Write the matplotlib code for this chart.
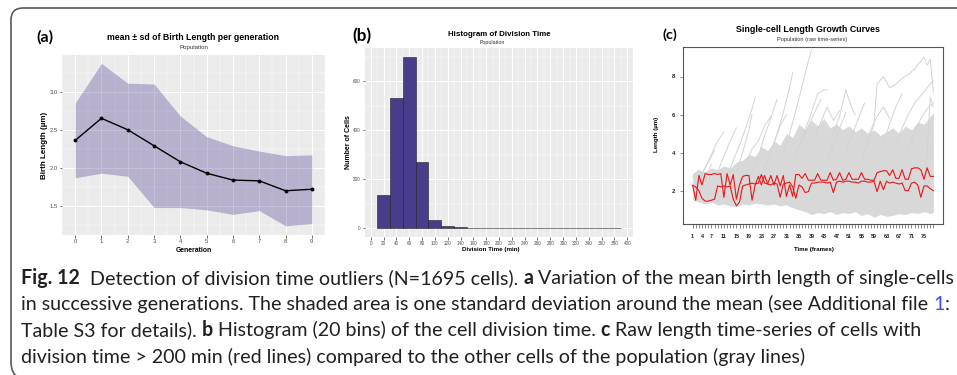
import numpy as np
import matplotlib
matplotlib.use('Agg')
import matplotlib.pyplot as plt
from matplotlib.path import Path
from matplotlib.patches import PathPatch

# ---------------- data ----------------
# (a) birth length per generation
generations = [0, 1, 2, 3, 4, 5, 6, 7, 8, 9]
birth_mean = [2.36, 2.65, 2.50, 2.29, 2.08, 1.93, 1.84, 1.83, 1.70, 1.72]
birth_sd = [0.49, 0.72, 0.61, 0.81, 0.60, 0.48, 0.45, 0.39, 0.46, 0.45]

# (b) histogram of division time
bin_edges = [10, 30, 50, 70, 90, 110, 130, 150, 170, 190, 210, 230, 250,
             270, 290, 310, 330, 350, 370, 390]
bin_counts = [138, 532, 698, 270, 35, 10, 6, 3, 1, 0, 0, 0, 0, 0, 0, 0, 0, 0, 2]
hist_xticks = list(range(0, 401, 20))
hist_yticks = [0, 200, 400, 600]

# (c) length time-series
frames = list(range(1, 79))
frame_labels = [1, 4, 7, 11, 15, 19, 23, 27, 31, 35, 39, 43, 47, 51, 55, 59, 63, 67, 71, 75]
red_a = [2.28, 1.50, 2.80, 2.30, 2.90, 2.85, 2.85, 2.90, 2.85, 2.90,
         1.65, 2.90, 2.30, 2.85, 1.55, 2.30, 2.75, 2.80, 2.80, 1.50,
         2.30, 2.75, 2.30, 2.80, 2.35, 2.80, 2.30, 2.80, 2.25, 2.80,
         1.70, 2.30, 1.70, 2.85, 2.85, 2.65, 2.90, 2.55, 2.55, 2.55,
         2.90, 2.55, 2.55, 2.55, 2.95, 2.55, 2.60, 2.95, 2.55, 2.60,
         2.95, 2.60, 2.60, 2.60, 2.95, 2.60, 2.60, 2.55, 2.55, 2.95,
         3.00, 3.05, 3.05, 2.80, 3.10, 2.65, 2.65, 3.10, 2.60, 2.60,
         3.15, 3.20, 3.20, 3.10, 2.60, 3.20, 2.75, 2.75]
red_b = [2.28, 2.20, 2.00, 1.60, 1.45, 1.45, 1.50, 1.55, 2.25, 2.20,
         2.25, 2.20, 2.25, 1.55, 1.20, 1.40, 2.25, 2.30, 2.35, 2.40,
         2.35, 2.40, 2.85, 2.40, 2.35, 2.30, 2.40, 2.35, 1.65, 2.35,
         2.40, 2.45, 2.20, 1.60, 2.30, 2.20, 1.90, 1.95, 2.40, 2.40,
         2.45, 2.45, 2.45, 2.40, 2.45, 1.90, 2.45, 2.50, 2.45, 2.50,
         2.50, 2.45, 2.45, 2.40, 2.50, 2.50, 2.45, 2.45, 2.50, 1.95,
         2.50, 2.05, 2.50, 2.40, 2.45, 2.40, 2.35, 2.40, 2.00, 2.00,
         2.40, 2.45, 2.30, 1.65, 2.25, 2.25, 2.10, 2.00]
# dense envelope of the gray population traces
env_frames = [1, 3, 5, 7, 9, 11, 13, 15, 17, 19, 21, 23, 25, 27, 29, 31, 33, 35, 37, 39,
              41, 43, 45, 47, 49, 51, 53, 55, 57, 59, 61, 63, 65, 67, 69, 71, 73, 75, 77, 78]
env_upper = [2.9, 3.1, 3.0, 3.2, 3.1, 3.3, 3.2, 3.5, 3.6, 3.9, 3.8, 4.3, 4.1, 4.6, 4.4, 5.0,
             4.8, 5.5, 5.2, 5.7, 5.4, 5.8, 5.3, 5.5, 5.2, 5.4, 5.1, 5.3, 5.0, 5.2, 4.9, 5.1,
             5.3, 5.0, 5.4, 5.2, 5.6, 5.5, 5.9, 6.1]
env_lower = [1.5, 1.4, 1.3, 1.4, 1.25, 1.3, 1.2, 1.15, 1.3, 1.25, 1.35, 1.3, 1.25, 1.3, 1.2,
             1.25, 1.1, 1.0, 0.9, 0.75, 0.85, 0.8, 0.9, 0.75, 0.85, 0.8, 0.9, 0.7, 0.8, 0.6,
             0.75, 0.65, 0.7, 0.8, 0.75, 0.85, 0.8, 0.9, 0.8, 0.85]
# individual gray traces that stand out of the dense mass
g01_f = [3, 5, 7, 9, 11];            g01_v = [2.6, 3.2, 3.9, 4.6, 5.1]
g02_f = [2, 4, 6, 8];                g02_v = [2.2, 2.9, 3.5, 4.1]
g03_f = [9, 11, 13, 15];             g03_v = [3.0, 3.8, 4.6, 5.3]
g04_f = [12, 14, 16, 18, 20, 21];    g04_v = [2.8, 3.6, 4.4, 5.3, 6.3, 6.9]
g05_f = [15, 17, 19, 20];            g05_v = [3.0, 4.0, 5.2, 6.0]
g06_f = [20, 22, 24, 26, 28];        g06_v = [3.0, 3.8, 4.9, 5.8, 6.8]
g07_f = [24, 26, 28, 30, 32, 33];    g07_v = [3.2, 4.0, 5.0, 6.1, 7.4, 8.2]
g08_f = [30, 32, 34, 36, 38, 39];    g08_v = [4.0, 5.0, 6.2, 7.5, 8.8, 9.4]
g09_f = [33, 35, 37, 39, 41, 43, 44]; g09_v = [3.5, 4.3, 5.2, 6.1, 7.1, 7.3, 7.3]
g10_f = [46, 48, 50, 52, 53];        g10_v = [5.0, 5.9, 7.3, 6.3, 6.0]
g11_f = [44, 46, 48, 50];            g11_v = [3.5, 4.4, 5.3, 6.1]
g12_f = [50, 52, 54, 56];            g12_v = [4.0, 4.9, 5.8, 6.6]
g13_f = [55, 57, 59, 60, 62, 64, 66, 68, 70, 72, 74, 75, 76, 77, 78]
g13_v = [3.5, 4.5, 5.5, 7.6, 8.0, 7.4, 7.6, 7.9, 8.1, 8.4, 8.8, 9.0, 8.6, 8.9, 7.2]
g14_f = [62, 64, 66, 68];            g14_v = [4.5, 5.5, 6.4, 7.1]
g15_f = [66, 68, 70, 72, 74, 76, 78]; g15_v = [4.5, 5.3, 6.0, 6.6, 7.0, 7.4, 7.8]
g16_f = [70, 72, 74, 76, 78];        g16_v = [4.2, 5.0, 5.8, 6.3, 6.6]
g17_f = [36, 38, 40, 42];            g17_v = [4.6, 5.4, 6.1, 6.8]
g18_f = [27, 29, 31];                g18_v = [4.5, 5.4, 6.0]
g19_f = [75, 76, 77, 78];            g19_v = [2.0, 4.0, 6.9, 6.4]
g20_f = [1, 3, 5, 7];                g20_v = [2.7, 3.1, 2.5, 3.4]
g21_f = [18, 20, 22, 24, 26];        g21_v = [3.4, 4.2, 4.6, 5.4, 5.9]
g22_f = [40, 42, 44, 46, 48];        g22_v = [4.8, 5.6, 6.4, 5.7, 6.2]
g23_f = [56, 58, 60, 62, 64];        g23_v = [4.6, 5.2, 5.9, 6.4, 5.8]

gray_traces = [(g01_f, g01_v), (g02_f, g02_v), (g03_f, g03_v), (g04_f, g04_v),
               (g05_f, g05_v), (g06_f, g06_v), (g07_f, g07_v), (g08_f, g08_v),
               (g09_f, g09_v), (g10_f, g10_v), (g11_f, g11_v), (g12_f, g12_v),
               (g13_f, g13_v), (g14_f, g14_v), (g15_f, g15_v), (g16_f, g16_v),
               (g17_f, g17_v), (g18_f, g18_v), (g19_f, g19_v), (g20_f, g20_v),
               (g21_f, g21_v), (g22_f, g22_v), (g23_f, g23_v)]

# ---------------- figure ----------------
W, H = 957, 375
fig = plt.figure(figsize=(W / 100, H / 100), dpi=100)
fig.patch.set_facecolor('white')
renderer = fig.canvas.get_renderer()
PF = ['Liberation Sans', 'DejaVu Sans']


def px_axes(l, t, r, b):
    return fig.add_axes([l / W, 1 - b / H, (r - l) / W, (b - t) / H])


def ftext(x, y, s, target, rot=0, **kw):
    kw.setdefault('family', PF)
    t = fig.text(x / W, 1 - y / H, s, ha='center', va='center', rotation=rot,
                 fontsize=10, **kw)
    bb = t.get_window_extent(renderer)
    w = bb.height if rot else bb.width
    t.set_fontsize(10 * target / w)
    return t


GG_BG = '#EBEBEB'
TICK_C = '#4D4D4D'


def gg_style(ax):
    ax.set_facecolor(GG_BG)
    for s in ax.spines.values():
        s.set_visible(False)
    ax.grid(True, which='major', color='white', lw=0.7)
    ax.grid(True, which='minor', color='white', lw=0.35)
    ax.set_axisbelow(True)
    ax.tick_params(which='major', length=1.8, width=0.5, color='#333333',
                   labelsize=3.6, labelcolor=TICK_C, pad=1.2)
    ax.tick_params(which='minor', length=0)
    for lab in ax.get_xticklabels() + ax.get_yticklabels():
        lab.set_family(PF)


# ---- panel (a) ----
axa = px_axes(62, 55, 325, 235)
m = np.array(birth_mean)
sd = np.array(birth_sd)
axa.fill_between(generations, m - sd, m + sd, color='#3F2E8C', alpha=0.3, lw=0)
axa.plot(generations, birth_mean, color='black', lw=1.0, marker='o', ms=1.8)
axa.set_xlim(-0.45, 9.45)
axa.set_ylim(1.12, 3.48)
axa.set_xticks(generations)
axa.set_xticks(np.arange(-0.5, 9.6, 0.5), minor=True)
axa.set_yticks([1.5, 2.0, 2.5, 3.0])
axa.set_yticklabels(['1.5', '2.0', '2.5', '3.0'])
axa.set_yticks([1.25, 1.75, 2.25, 2.75, 3.25], minor=True)
gg_style(axa)
axa.tick_params(labelsize=4.2)

ftext(193, 37, 'mean \u00b1 sd of Birth Length per generation', 173, weight='bold')
ftext(194, 48, 'Population', 29, color='#333333')
ftext(194, 250, 'Generation', 36, weight='bold')
ftext(44, 145, 'Birth Length (\u00b5m)', 67, rot=90, weight='bold')
ftext(45, 37, '(a)', 17, weight='bold', family=['Lato', 'DejaVu Sans'])

# ---- panel (b) ----
axb = px_axes(365, 48, 633, 237)
axb.bar(bin_edges[:-1], bin_counts, width=20, align='edge', color='#483D8B',
        edgecolor='#1E1E1E', lw=0.4)
axb.set_xlim(-9, 409)
axb.set_ylim(-35, 735)
axb.set_xticks(hist_xticks)
axb.set_xticks(list(range(10, 401, 20)), minor=True)
axb.set_yticks(hist_yticks)
axb.set_yticks([100, 300, 500, 700], minor=True)
gg_style(axb)
axb.tick_params(labelsize=3.3)

ftext(499, 35, 'Histogram of Division Time', 101, weight='bold')
ftext(492, 42.5, 'Population', 25, color='#333333')
ftext(491, 249.5, 'Division Time (min)', 58, weight='bold')
ftext(349, 142, 'Number of Cells', 54, rot=90, weight='bold')
ftext(362, 36, '(b)', 19, weight='bold', family=['Lato', 'DejaVu Sans'])

# ---- panel (c) ----
axc = px_axes(683, 47, 943, 224)
axc.fill_between(env_frames, env_lower, env_upper, color='#D8D8D8', lw=0)
for f, v in gray_traces:
    axc.plot(f, v, color='#D3D3D3', lw=0.7)
axc.plot(frames, red_a, color='#E8161B', lw=0.8)
axc.plot(frames, red_b, color='#E8161B', lw=0.8)
axc.set_xlim(-2.08, 81.08)
axc.set_ylim(0.25, 9.55)
axc.set_xticks(frames)
axc.set_xticklabels([str(f) if f in frame_labels else '' for f in frames])
axc.set_yticks([2, 4, 6, 8])
for s in axc.spines.values():
    s.set_color('#555555')
    s.set_linewidth(0.8)
axc.tick_params(axis='x', length=3.0, width=0.4, color='#333333', labelsize=3.9,
                pad=4.5, labelcolor='#222222')
axc.tick_params(axis='y', length=2.5, width=0.4, color='#333333', labelsize=4.2,
                pad=3.0, labelcolor='#222222')
for lab in axc.get_xticklabels() + axc.get_yticklabels():
    lab.set_family(PF)
    lab.set_weight('bold')

ftext(808, 29, 'Single-cell Length Growth Curves', 143, weight='bold')
ftext(812, 39.3, 'Population (raw time-series)', 70, color='#333333')
ftext(814, 250, 'Time (frames)', 40, weight='bold')
ftext(656.5, 134, 'Length (\u00b5m)', 35, rot=90, weight='bold')
ftext(670, 35, '(c)', 15, weight='bold', family=['Lato', 'DejaVu Sans'])

# ---- outer frame (rounded top-left corner) ----
def fpt(x, y):
    return (x / W, 1 - y / H)

verts = [fpt(11, 362), fpt(11, 20), fpt(11, 8), fpt(23, 8), fpt(W + 5, 8)]
codes = [Path.MOVETO, Path.LINETO, Path.CURVE3, Path.CURVE3, Path.LINETO]
fig.add_artist(PathPatch(Path(verts, codes), transform=fig.transFigure,
                         fill=False, edgecolor='#5A5A5A', lw=1.2))
verts2 = [fpt(11, 362), fpt(11, 374), fpt(19, 378)]
codes2 = [Path.MOVETO, Path.CURVE3, Path.CURVE3]
fig.add_artist(PathPatch(Path(verts2, codes2), transform=fig.transFigure,
                         fill=False, edgecolor='#5A5A5A', lw=1.2))

# ---- caption ----
CF = ['Lato', 'DejaVu Sans']
CAP_C = '#231F20'
LINK_C = '#3355DD'


def adv(s, weight, fs):
    t = fig.text(0, 0, 'A' + s + '|', fontsize=fs, weight=weight, family=CF)
    w1 = t.get_window_extent(renderer).width
    t.set_text('A|')
    w2 = t.get_window_extent(renderer).width
    t.remove()
    return w1 - w2


cap_lines = [
    [('Fig. 12', 'bold', CAP_C), ('  Detection of division time outliers (N=1695 cells). ', 'normal', CAP_C),
     ('a', 'bold', CAP_C), (' Variation of the mean birth length of single-cells', 'normal', CAP_C)],
    [('in successive generations. The shaded area is one standard deviation around the mean (see Additional file ', 'normal', CAP_C),
     ('1', 'normal', LINK_C), (':', 'normal', CAP_C)],
    [('Table S3 for details). ', 'normal', CAP_C), ('b', 'bold', CAP_C),
     (' Histogram (20 bins) of the cell division time. ', 'normal', CAP_C), ('c', 'bold', CAP_C),
     (' Raw length time-series of cells with', 'normal', CAP_C)],
    [('division time > 200 min (red lines) compared to the other cells of the population (gray lines)', 'normal', CAP_C)],
]
cap_baselines = [284, 310, 336, 363]
cap_targets = [932, 926]
x_start = 21

fs0 = 10.0
ratios = []
for line, tgt in zip(cap_lines[:2], cap_targets):
    wl = sum(adv(s, wt, fs0) for s, wt, c in line)
    ratios.append(tgt / wl)
cap_fs = fs0 * min(ratios)

for line, yb in zip(cap_lines, cap_baselines):
    x = x_start
    for s, wt, c in line:
        lead = s[:len(s) - len(s.lstrip(' '))]
        body = s.strip(' ')
        xl = x + (adv(lead, wt, cap_fs) if lead else 0)
        if body:
            fig.text(xl / W, 1 - yb / H, body, fontsize=cap_fs, weight=wt, color=c,
                     family=CF, ha='left', va='baseline')
        x += adv(s, wt, cap_fs)

fig.savefig('out.png', dpi=100, facecolor='white')
